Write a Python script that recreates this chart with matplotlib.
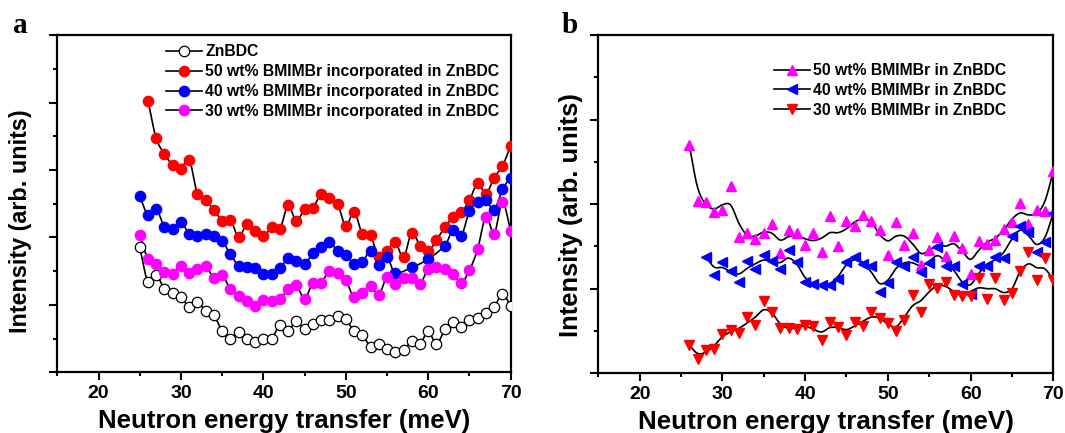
import numpy as np
import matplotlib
matplotlib.use("Agg")
import matplotlib.pyplot as plt
from matplotlib.ticker import MultipleLocator
from matplotlib.lines import Line2D

# ---------------- data: panel a ----------------
e_a = list(range(25, 71))
znbdc = [3.71, 2.68, 2.89, 2.47, 2.36, 2.24, 1.94, 2.09, 1.82, 1.69,
         1.22, 1.00, 1.19, 1.00, 0.90, 1.00, 1.00, 1.40, 1.24, 1.52,
         1.27, 1.44, 1.55, 1.56, 1.67, 1.57, 1.22, 1.12, 0.75, 0.84,
         0.68, 0.61, 0.66, 0.92, 0.83, 1.22, 0.83, 1.27, 1.49, 1.35,
         1.55, 1.60, 1.77, 1.94, 2.32, 1.97]

e_a50 = list(range(26, 71))
a50 = [8.06, 6.94, 6.49, 6.14, 6.04, 6.31, 5.30, 5.10, 4.82, 4.50,
       4.53, 4.01, 4.40, 4.20, 4.03, 4.30, 4.25, 4.95, 4.48, 4.85,
       4.88, 5.28, 5.17, 5.00, 4.33, 4.77, 4.11, 4.06, 3.41, 3.61,
       3.86, 3.41, 4.14, 3.76, 3.59, 3.93, 4.30, 4.60, 4.75, 5.10,
       5.62, 5.30, 5.78, 6.12, 6.72]

e_a40 = list(range(25, 57)) + [58, 60] + list(range(62, 71))
a40 = [5.22, 4.67, 4.85, 4.32, 4.24, 4.45, 4.11, 4.03, 4.11, 4.03,
       3.89, 3.51, 3.16, 3.13, 3.08, 2.91, 2.93, 3.08, 3.38, 3.31,
       3.21, 3.53, 3.71, 3.86, 3.61, 3.49, 3.21, 3.26, 3.61, 3.18,
       3.43, 2.96, 3.11, 3.36, 3.76, 4.22, 4.04, 4.78, 5.05, 5.10,
       4.82, 5.43, 5.78]

a30 = [4.08, 3.36, 3.21, 2.99, 2.93, 3.16, 2.96, 3.06, 3.14, 2.81,
       2.88, 2.47, 2.27, 2.12, 1.97, 2.15, 2.12, 2.17, 2.47, 2.59,
       2.17, 2.66, 2.66, 3.01, 2.96, 2.73, 2.22, 2.34, 2.56, 2.30,
       2.83, 2.63, 2.81, 2.81, 2.63, 3.06, 3.11, 3.06, 2.93, 2.66,
       3.03, 3.66, 4.62, 4.11, 5.05, 4.20]

labels_a = ["ZnBDC",
            "50 wt% BMIMBr incorporated in ZnBDC",
            "40 wt% BMIMBr incorporated in ZnBDC",
            "30 wt% BMIMBr incorporated in ZnBDC"]

# ---------------- data: panel b ----------------
e_b50 = list(range(26, 71))
b50 = [5.39, 4.07, 4.05, 3.82, 3.85, 4.42, 3.22, 3.32, 3.18, 3.32,
       3.54, 2.84, 3.38, 3.32, 3.04, 3.32, 2.88, 3.71, 3.00, 3.59,
       3.49, 3.75, 3.59, 3.38, 2.79, 3.57, 3.04, 3.32, 2.55, 2.92,
       3.22, 2.78, 3.25, 2.96, 2.35, 3.12, 3.06, 3.16, 3.41, 3.57,
       4.03, 3.54, 3.87, 3.83, 4.78]

e_b40 = list(range(28, 71))
b40 = [2.76, 2.33, 2.63, 2.41, 2.17, 2.65, 2.46, 2.80, 2.65, 2.46,
       2.91, 2.62, 2.16, 2.12, 2.09, 2.08, 2.24, 2.63, 2.76, 2.59,
       2.53, 1.92, 2.13, 2.63, 2.53, 2.76, 2.39, 2.61, 2.99, 2.53,
       2.53, 2.12, 1.87, 2.53, 2.53, 2.74, 2.73, 3.24, 3.48, 3.33,
       2.88, 3.10, 3.79]

e_b30 = list(range(26, 71))
b30 = [0.66, 0.34, 0.54, 0.58, 0.92, 1.03, 0.95, 1.33, 1.15, 1.70,
       1.46, 1.07, 1.07, 1.05, 1.15, 1.11, 0.79, 1.22, 1.09, 0.91,
       1.22, 1.13, 1.44, 1.30, 1.18, 0.99, 1.25, 1.84, 1.46, 2.12,
       2.01, 2.17, 1.86, 1.83, 1.83, 2.25, 1.75, 2.25, 1.74, 1.91,
       2.43, 2.86, 2.20, 2.73, 2.21]

labels_b = ["50 wt% BMIMBr in ZnBDC",
            "40 wt% BMIMBr in ZnBDC",
            "30 wt% BMIMBr in ZnBDC"]

xticks = [20, 30, 40, 50, 60, 70]

RED, BLUE, MAG = "#ff0000", "#0000ff", "#ff00ff"
SANS = ["Liberation Sans", "DejaVu Sans"]
SERIF = ["Liberation Serif", "DejaVu Serif"]


def catmull(x, y, presmooth=False, n=12):
    x = np.asarray(x, float)
    y = np.asarray(y, float)
    if presmooth and len(y) > 2:
        ys = y.copy()
        ys[1:-1] = 0.25 * y[:-2] + 0.5 * y[1:-1] + 0.25 * y[2:]
        y = ys
    xp = np.concatenate([[2 * x[0] - x[1]], x, [2 * x[-1] - x[-2]]])
    yp = np.concatenate([[2 * y[0] - y[1]], y, [2 * y[-1] - y[-2]]])
    t = np.linspace(0, 1, n, endpoint=False)
    ox, oy = [], []
    for i in range(1, len(xp) - 2):
        for p, out in ((xp, ox), (yp, oy)):
            p0, p1, p2, p3 = p[i - 1], p[i], p[i + 1], p[i + 2]
            out.extend(0.5 * (2 * p1 + (-p0 + p2) * t
                              + (2 * p0 - 5 * p1 + 4 * p2 - p3) * t ** 2
                              + (-p0 + 3 * p1 - 3 * p2 + p3) * t ** 3))
    ox.append(x[-1])
    oy.append(y[-1])
    return np.array(ox), np.array(oy)


def style_axes(ax, ymax, labelpad, ysize, ylab_y, xsize):
    ax.set_xlim(15, 70)
    ax.set_ylim(0, ymax)
    ax.set_xticks(xticks)
    ax.xaxis.set_minor_locator(MultipleLocator(5))
    ax.yaxis.set_major_locator(MultipleLocator(2))
    ax.yaxis.set_minor_locator(MultipleLocator(1))
    ax.set_yticklabels([])
    ax.tick_params(which="both", direction="out", width=1.5,
                   top=False, right=False)
    ax.tick_params(which="major", length=5.5, pad=4)
    ax.tick_params(which="minor", length=3)
    for lab in ax.get_xticklabels():
        lab.set_fontfamily(SANS)
        lab.set_fontweight("bold")
        lab.set_fontsize(14)
    for s in ax.spines.values():
        s.set_linewidth(1.6)
    ax.set_xlabel("Neutron energy transfer (meV)", fontsize=xsize,
                  fontweight="bold", family=SANS, labelpad=4.5)
    ax.set_ylabel("Intensity (arb. units)", fontsize=ysize,
                  fontweight="bold", family=SANS, labelpad=labelpad)
    ax.yaxis.set_label_coords(ax.yaxis.label.get_position()[0], ylab_y)
    ax.yaxis.label.set_y(ylab_y)


fig = plt.figure(figsize=(10.65, 4.33), dpi=100)
axa = fig.add_axes([0.0538, 0.1402, 0.4257, 0.7783])
axb = fig.add_axes([0.5618, 0.1379, 0.4272, 0.7813])

# ---- panel a ----
series_a = [
    (e_a, znbdc, "white", "black", labels_a[0]),
    (e_a50, a50, RED, RED, labels_a[1]),
    (e_a40, a40, BLUE, BLUE, labels_a[2]),
    (e_a, a30, MAG, MAG, labels_a[3]),
]
handles = []
for x, y, fc, ec, lab in series_a:
    sx, sy = catmull(x, y)
    axa.plot(sx, sy, color="black", lw=1.2, zorder=2)
for x, y, fc, ec, lab in series_a:
    axa.plot(x, y, ls="none", marker="o", ms=7.5, mfc=fc, mec=ec,
             mew=0.9, zorder=3)
    handles.append(Line2D([], [], color="black", lw=1.2, marker="o",
                          ms=7.5, mfc=fc, mec=ec, mew=0.9, label=lab))
axa.set_xlim(15, 70)
axa.set_ylim(0, 10)
axa.legend(handles=handles, loc="upper left", bbox_to_anchor=(0.24, 0.973),
           frameon=False, borderpad=0, borderaxespad=0, handlelength=2.3,
           handletextpad=0.2, labelspacing=0.31,
           prop={"family": SANS, "weight": "bold", "size": 11.3})

# ---- panel b ----
series_b = [
    (e_b50, b50, MAG, "^", labels_b[0]),
    (e_b40, b40, BLUE, "<", labels_b[1]),
    (e_b30, b30, RED, "v", labels_b[2]),
]
handles = []
for x, y, c, m, lab in series_b:
    sx, sy = catmull(x, y, presmooth=True)
    axb.plot(sx, sy, color="black", lw=1.2, zorder=2)
for x, y, c, m, lab in series_b:
    axb.plot(x, y, ls="none", marker=m, ms=6.5, color=c, mec=c, zorder=3)
    handles.append(Line2D([], [], color="black", lw=1.2, marker=m,
                          ms=6.5, mfc=c, mec=c, label=lab))
axb.legend(handles=handles, loc="upper left", bbox_to_anchor=(0.386, 0.917),
           frameon=False, borderpad=0, borderaxespad=0, handlelength=2.3,
           handletextpad=0.2, labelspacing=0.31,
           prop={"family": SANS, "weight": "bold", "size": 11.3})

# axis styling; y-label placed by figure pixel coordinates converted to axes fractions
for ax, ymax, xright, ycen, ysize, xsize in (
        (axa, 10, 32, 221, 16.8, 18.5),
        (axb, 8, 583, 215, 18.4, 18.7)):
    style_axes(ax, ymax, 0, ysize, 0.5, xsize)
    bb = ax.get_position()
    x0 = bb.x0 * 1065
    w = bb.width * 1065
    y1 = (1 - bb.y1) * 433
    h = bb.height * 433
    ax.yaxis.set_label_coords((xright - x0) / w, 1 - (ycen - y1) / h)
    ax.yaxis.label.set_verticalalignment("bottom")

fig.text(13 / 1065, 1 - 33 / 433, "a", fontsize=21, fontweight="bold",
         family=SERIF, va="baseline", ha="left")
fig.text(562 / 1065, 1 - 33 / 433, "b", fontsize=21, fontweight="bold",
         family=SERIF, va="baseline", ha="left")

fig.savefig("out.png", dpi=100)
